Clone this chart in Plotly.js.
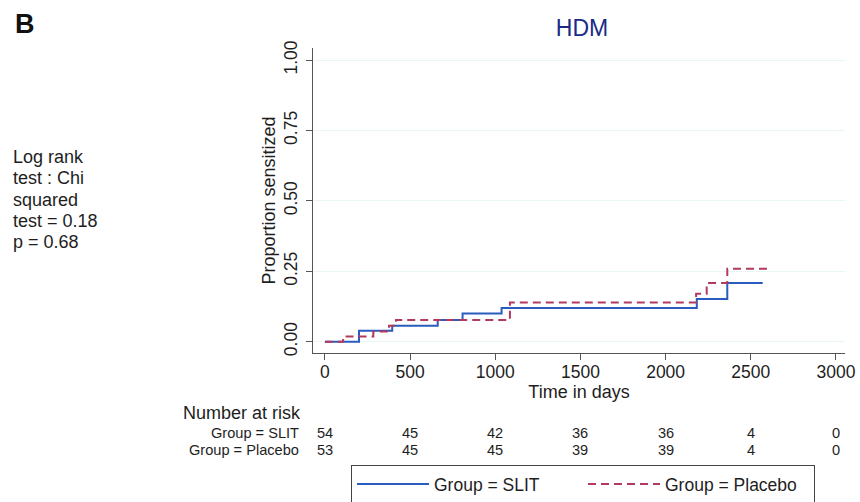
<!DOCTYPE html>
<html>
<head>
<meta charset="utf-8">
<script src="https://cdn.plot.ly/plotly-3.0.1.min.js"></script>
<style>html,body{margin:0;padding:0;background:#fff;}#chart{width:860px;height:502px;}</style>
</head>
<body>
<div id="chart"></div>
<script>
// Kaplan-Meier step data (days, proportion sensitized)
const slitDays = [0, 200, 395, 662, 808, 1037, 2183, 2362, 2570];
const slitProp = [0, 0.039, 0.057, 0.077, 0.100, 0.120, 0.152, 0.209, 0.209];
const placeboDays = [0, 107, 284, 376, 417, 1086, 2179, 2241, 2362, 2600];
const placeboProp = [0, 0.019, 0.036, 0.057, 0.077, 0.139, 0.170, 0.209, 0.259, 0.259];

const seriesNames = ["Group = SLIT", "Group = Placebo"];
const xTicks = [0, 500, 1000, 1500, 2000, 2500, 3000];
const yTicks = [0, 0.25, 0.5, 0.75, 1.0];
const yTickText = ["0.00", "0.25", "0.50", "0.75", "1.00"];
const riskSlit = [54, 45, 42, 36, 36, 4, 0];
const riskPlacebo = [53, 45, 45, 39, 39, 4, 0];
const statLines = ["Log rank", "test : Chi", "squared", "test = 0.18", "p = 0.68"];

const FONT = "Liberation Sans, Arial, Helvetica, sans-serif";
const AX = "#555555";
const TXT = "#1e1e1e";

const traces = [
  {x: slitDays, y: slitProp, name: seriesNames[0], type: "scatter", mode: "lines",
   line: {shape: "hv", color: "#2a5cc0", width: 2}},
  {x: placeboDays, y: placeboProp, name: seriesNames[1], type: "scatter", mode: "lines",
   line: {shape: "hv", color: "#b23a5e", width: 2, dash: "8px,5px"}}
];

const plotH = 502 - 48 - 149;
function py(pixelY){ return (353 - pixelY) / plotH; }
function px(pixelX){ return (pixelX - 313) / 532; }

const annotations = [];
annotations.push({text: "<b>B</b>", xref: "paper", yref: "paper", x: px(13), y: py(24),
  xanchor: "left", yanchor: "middle", showarrow: false, font: {family: FONT, size: 27, color: "#111"}});
statLines.forEach((t, i) => annotations.push({text: t, xref: "paper", yref: "paper",
  x: px(11), y: py(157 + i*21.3), xanchor: "left", yanchor: "middle", showarrow: false,
  font: {family: FONT, size: 18, color: TXT}}));
annotations.push({text: "Number at risk", xref: "paper", yref: "paper", x: px(181), y: py(413),
  xanchor: "left", yanchor: "middle", showarrow: false, font: {family: FONT, size: 18, color: TXT}});
annotations.push({text: seriesNames[0], xref: "paper", yref: "paper", x: px(301), y: py(433),
  xanchor: "right", yanchor: "middle", showarrow: false, font: {family: FONT, size: 14.6, color: TXT}});
annotations.push({text: seriesNames[1], xref: "paper", yref: "paper", x: px(301), y: py(450),
  xanchor: "right", yanchor: "middle", showarrow: false, font: {family: FONT, size: 14.6, color: TXT}});
xTicks.forEach((t, i) => {
  annotations.push({text: String(riskSlit[i]), xref: "x", yref: "paper", x: t, y: py(433),
    xanchor: "center", yanchor: "middle", showarrow: false, font: {family: FONT, size: 14.6, color: TXT}});
  annotations.push({text: String(riskPlacebo[i]), xref: "x", yref: "paper", x: t, y: py(450),
    xanchor: "center", yanchor: "middle", showarrow: false, font: {family: FONT, size: 14.6, color: TXT}});
});

const layout = {
  width: 860, height: 502,
  margin: {l: 313, r: 15, t: 48, b: 149, autoexpand: false},
  paper_bgcolor: "#fff", plot_bgcolor: "#fff",
  font: {family: FONT, size: 17.5, color: TXT},
  title: {text: "HDM", x: px(582) , xref: "paper", xanchor: "center", y: 1 - 28/502, yref: "container", yanchor: "middle",
    font: {family: FONT, size: 23, color: "#1c2a86"}},
  xaxis: {range: [-70, 3053], tickvals: xTicks, ticks: "outside", ticklen: 6, tickcolor: AX,
    showline: true, linecolor: AX, linewidth: 1.3, showgrid: false, zeroline: false,
    ticklabelstandoff: -3,
    tickfont: {family: FONT, size: 17.5, color: TXT},
    title: {text: "Time in days", standoff: 0, font: {family: FONT, size: 18, color: TXT}}},
  yaxis: {range: [-0.04, 1.043], tickvals: yTicks, ticktext: yTickText, tickangle: -90,
    ticks: "outside", ticklen: 6, tickcolor: AX, showline: true, linecolor: AX, linewidth: 1.3,
    showgrid: true, gridcolor: "#eaf6f6", gridwidth: 1, zeroline: false,
    ticklabelstandoff: 2,
    tickfont: {family: FONT, size: 17.5, color: TXT},
    title: {text: "Proportion sensitized", standoff: 0, font: {family: FONT, size: 18, color: TXT}}},
  showlegend: true,
  legend: {orientation: "h", x: px(351), y: py(465), xanchor: "left", yanchor: "top",
    bordercolor: "#444", borderwidth: 1, bgcolor: "#fff", itemwidth: 72, entrywidth: 144,
    font: {family: FONT, size: 17.5, color: TXT}},
  annotations: annotations
};

Plotly.newPlot("chart", traces, layout, {displayModeBar: false, staticPlot: true});
</script>
</body>
</html>
